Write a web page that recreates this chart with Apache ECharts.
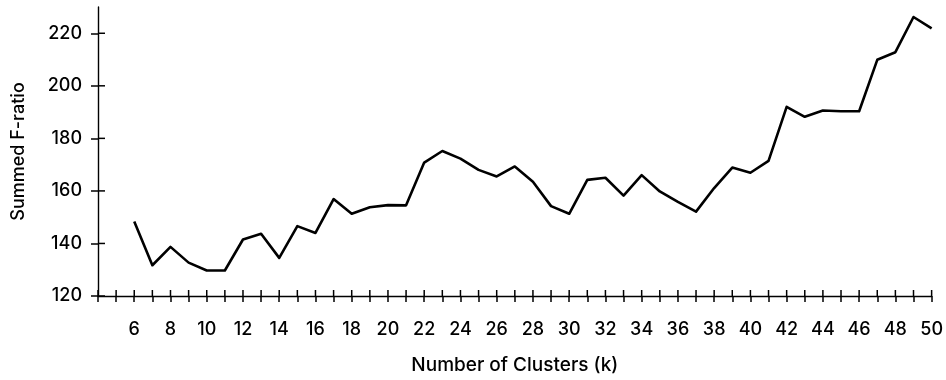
<!DOCTYPE html>
<html>
<head>
<meta charset="utf-8">
<script src="https://cdn.jsdelivr.net/npm/echarts@6/dist/echarts.min.js"></script>
<style>
  html, body { margin: 0; padding: 0; background: #fff; }
  #chart { width: 946px; height: 380px; }
</style>
</head>
<body>
<div id="chart"></div>
<script>
// Number of clusters k
const clusters = [6, 7, 8, 9, 10, 11, 12, 13, 14, 15, 16, 17, 18, 19, 20,
  21, 22, 23, 24, 25, 26, 27, 28, 29, 30, 31, 32, 33, 34, 35,
  36, 37, 38, 39, 40, 41, 42, 43, 44, 45, 46, 47, 48, 49, 50];

// Summed F-ratio for each k
const summedF = [148.4, 131.7, 138.7, 132.7, 129.7, 129.7, 141.5, 143.7, 134.5, 146.6,
  144.0, 156.9, 151.3, 153.8, 154.6, 154.5, 170.8, 175.2, 172.3, 168.0,
  165.5, 169.3, 163.5, 154.2, 151.3, 164.2, 165.0, 158.2, 166.0, 159.8,
  155.8, 152.1, 161.1, 168.9, 166.9, 171.4, 192.0, 188.2, 190.6, 190.3,
  190.3, 209.9, 212.8, 226.2, 221.9];

// Axis ticks and labels
const xTicks = [4, 5, 6, 7, 8, 9, 10, 11, 12, 13, 14, 15, 16, 17, 18, 19, 20, 21, 22, 23, 24, 25, 26, 27,
  28, 29, 30, 31, 32, 33, 34, 35, 36, 37, 38, 39, 40, 41, 42, 43, 44, 45, 46, 47, 48, 49, 50];
const xLabels = [6, 8, 10, 12, 14, 16, 18, 20, 22, 24, 26, 28, 30, 32, 34, 36, 38, 40, 42, 44, 46, 48, 50];
const yTicks = [120, 140, 160, 180, 200, 220];

const FONT = 'Inter';
const INK = '#000';
const X_MIN = 4, X_MAX = 50, Y_MIN = 120, Y_MAX = 230;
const tickStyle = { color: INK, width: 1.5 };

const chart = echarts.init(document.getElementById('chart'), null, { renderer: 'canvas' });

// Inner half of each crossing tick (the outer half comes from the axes themselves).
// Each item: [x, y, 0 for a vertical x tick | 1 for a horizontal y tick]
const innerTicks = xTicks.map(v => [v, Y_MIN, 0]).concat(yTicks.map(v => [X_MIN, v, 1]));

function renderInnerTick(params, api) {
  const p = api.coord([api.value(0), api.value(1)]);
  const horizontal = api.value(2) === 1;
  const shape = horizontal
    ? { x1: p[0], y1: p[1], x2: p[0] + 7, y2: p[1] }
    : { x1: p[0], y1: p[1], x2: p[0], y2: p[1] - 6 };
  return { type: 'line', shape: shape, style: { stroke: INK, lineWidth: 1.5 } };
}

chart.setOption({
  animation: false,
  backgroundColor: '#fff',
  grid: { left: 98, right: 13, top: 7, bottom: 82, containLabel: false },
  xAxis: {
    type: 'value', min: X_MIN, max: X_MAX, interval: 1,
    splitLine: { show: false },
    name: 'Number of Clusters (k)',
    nameLocation: 'middle',
    nameGap: 60,
    nameTextStyle: { fontFamily: FONT, fontSize: 19, fontWeight: 500, color: INK },
    axisLine: { show: true, lineStyle: { color: INK, width: 1.4 } },
    axisTick: { show: true, inside: false, length: 6, customValues: xTicks, lineStyle: tickStyle },
    axisLabel: { show: true, customValues: xLabels, margin: 25, fontFamily: FONT, fontSize: 18, fontWeight: 500, color: INK }
  },
  yAxis: {
    type: 'value', min: Y_MIN, max: Y_MAX, interval: 10,
    splitLine: { show: false },
    name: 'Summed F-ratio',
    nameLocation: 'middle',
    nameGap: 70,
    nameTextStyle: { fontFamily: FONT, fontSize: 18, fontWeight: 500, color: INK },
    axisLine: { show: true, lineStyle: { color: INK, width: 1.4 } },
    axisTick: { show: true, inside: false, length: 7, customValues: yTicks, lineStyle: tickStyle },
    axisLabel: { show: true, customValues: yTicks, margin: 16, fontFamily: FONT, fontSize: 18, fontWeight: 500, color: INK }
  },
  series: [{
    type: 'line',
    data: clusters.map((k, i) => [k, summedF[i]]),
    showSymbol: false,
    symbol: 'none',
    lineStyle: { color: INK, width: 2.6, join: 'round' }
  }, {
    type: 'custom',
    silent: true,
    clip: false,
    dimensions: ['x', 'y', 'dir'],
    encode: { x: 0, y: 1 },
    data: innerTicks,
    renderItem: renderInnerTick,
    z: 3
  }]
});
</script>
</body>
</html>
